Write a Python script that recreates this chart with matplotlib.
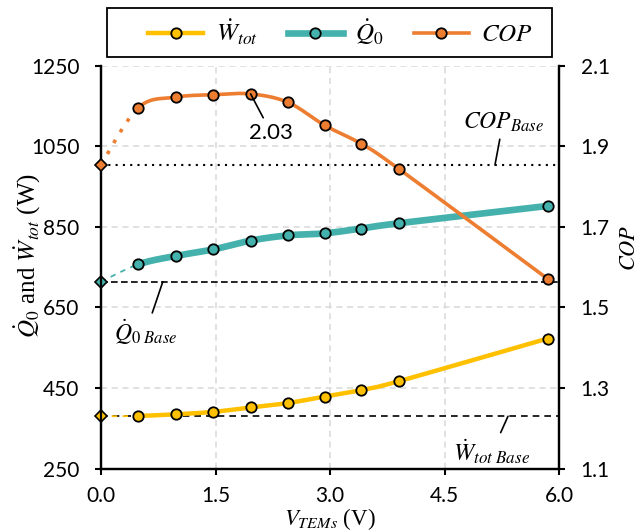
import numpy as np
import matplotlib.pyplot as plt
from matplotlib.lines import Line2D
from matplotlib.patches import Rectangle

plt.rcParams['font.family'] = ['Lato', 'DejaVu Sans']
plt.rcParams['mathtext.fontset'] = 'stix'

# TEM voltage, first entry is the base case without TEMs
v_tem = [0.0, 0.49, 0.98, 1.47, 1.96, 2.45, 2.93, 3.41, 3.90, 5.85]
w_tot = [380, 381, 385, 391, 402, 413, 429, 445, 467, 573]
q_0 = [714, 757, 778, 794, 816, 829, 834, 846, 859, 902]
cop = [1.854, 1.996, 2.022, 2.028, 2.030, 2.009, 1.952, 1.906, 1.844, 1.571]

YELLOW = '#FFC000'
TEAL = '#45B1AC'
ORANGE = '#ED7D31'


def smooth(x, y, n=30):
    # bezier smoothing like the spreadsheet "smoothed line" option
    x = np.asarray(x, float)
    y = np.asarray(y, float)
    pts = np.column_stack([x, y])
    segs = []
    for i in range(len(pts) - 1):
        p0 = pts[max(i - 1, 0)]
        p1 = pts[i]
        p2 = pts[i + 1]
        p3 = pts[min(i + 2, len(pts) - 1)]
        c1 = p1 + (p2 - p0) / 6.0
        c2 = p2 - (p3 - p1) / 6.0
        t = np.linspace(0, 1, n)[:, None]
        b = ((1 - t) ** 3) * p1 + 3 * ((1 - t) ** 2) * t * c1 + 3 * (1 - t) * t ** 2 * c2 + t ** 3 * p2
        segs.append(b)
    return segs


def draw_series(axis, x, y, color, lw, first_style, first_lw):
    segs = smooth(x, y)
    first = segs[0]
    rest = np.vstack(segs[1:])
    axis.plot(first[:, 0], first[:, 1], color=color, lw=first_lw, ls=first_style, zorder=3)
    axis.plot(rest[:, 0], rest[:, 1], color=color, lw=lw, zorder=3, solid_capstyle='butt')
    axis.plot(x[1:], y[1:], 'o', ms=7.5, mfc=color, mec='black', mew=1.3, zorder=5)
    axis.plot(x[0], y[0], 'D', ms=6.5, mfc=color, mec='black', mew=1.2, zorder=6, clip_on=False)


fig = plt.figure(figsize=(6.39, 5.32), dpi=100)
ax = fig.add_axes([0.158, 0.119, 0.717, 0.7575])
ax2 = ax.twinx()

ax.set_xlim(0, 6)
ax.set_ylim(250, 1250)
ax2.set_ylim(1.1, 2.1)
ax.set_xticks(np.arange(0, 6.01, 1.5))
ax.set_xticklabels(['0.0', '1.5', '3.0', '4.5', '6.0'])
ax.set_yticks(np.arange(250, 1251, 200))
ax2.set_yticks(np.arange(1.1, 2.11, 0.2))
ax2.set_yticklabels(['1.1', '1.3', '1.5', '1.7', '1.9', '2.1'])

ax.grid(True, color='#d9d9d9', ls=(0, (4, 3)), lw=1.1)
ax.set_axisbelow(True)

for a in (ax, ax2):
    a.spines['top'].set_visible(False)
    for s in ('left', 'right', 'bottom'):
        a.spines[s].set_linewidth(1.6)
    a.tick_params(direction='out', length=4.5, width=1.5, labelsize=15, pad=11)
ax.tick_params(axis='x', pad=8)

# base case reference lines
ax.axhline(w_tot[0], color='black', ls=(0, (4, 3)), lw=1.2, zorder=2)
ax.axhline(q_0[0], color='black', ls=(0, (4, 2)), lw=1.2, zorder=2)
ax2.axhline(cop[0], color='black', ls=(0, (1, 2.5)), lw=1.5, zorder=2)

draw_series(ax, v_tem, w_tot, YELLOW, 3.2, (0, (3, 3)), 1.3)
draw_series(ax, v_tem, q_0, TEAL, 4.8, (0, (3, 3)), 1.3)
draw_series(ax2, v_tem, cop, ORANGE, 2.6, (0, (1, 2.5)), 2.6)

ax.set_xlabel(r'$V_{TEMs}$ (V)', fontsize=16.5, family='Liberation Serif', va='bottom')
ax.xaxis.set_label_coords(0.5, -0.156)
ax.set_ylabel(r'$\dot{Q}_0$ and $\dot{W}_{tot}$ (W)', fontsize=18, family='Liberation Serif',
              va='center')
ax.yaxis.set_label_coords(-0.16, 0.53)
ax2.set_ylabel(r'$COP$', fontsize=16, va='center')
ax2.yaxis.set_label_coords(1.152, 0.548)

line_kw = dict(arrowstyle='-', color='black', lw=1.2, shrinkA=2, shrinkB=0)
ax2.annotate('2.03', xy=(1.96, 2.03), xytext=(2.23, 1.933), fontsize=16,
             ha='center', va='center', arrowprops=line_kw, zorder=7)
ax2.annotate(r'$COP_{Base}$', xy=(5.16, cop[0]), xytext=(5.265, 1.96), fontsize=17,
             ha='center', va='center', arrowprops=line_kw)
ax.annotate(r'$\dot{Q}_{0\ Base}$', xy=(0.81, q_0[0]), xytext=(0.583, 587), fontsize=17,
            ha='center', va='center', arrowprops=line_kw)
ax.annotate(r'$\dot{W}_{tot\ Base}$', xy=(5.33, w_tot[0]), xytext=(5.12, 291), fontsize=17.5,
            ha='center', va='center', arrowprops=line_kw)

handles = [
    Line2D([], [], color=YELLOW, lw=3.2, marker='o', ms=7.5, mfc=YELLOW, mec='black', mew=1.3),
    Line2D([], [], color=TEAL, lw=4.8, marker='o', ms=7.5, mfc=TEAL, mec='black', mew=1.3),
    Line2D([], [], color=ORANGE, lw=2.6, marker='o', ms=7.5, mfc=ORANGE, mec='black', mew=1.3),
]
labels = [r'$\dot{W}_{tot}$', r'$\dot{Q}_0$', r'$COP$']
fig.legend(handles, labels, loc='center', bbox_to_anchor=(0.533, 0.939), ncol=3,
           fontsize=18, frameon=False, handlelength=2.2, handletextpad=0.5,
           columnspacing=1.2, borderpad=0, borderaxespad=0)
# legend frame
fig.add_artist(Rectangle((0.1675, 0.8929), 0.6964, 0.0921, transform=fig.transFigure,
                         fill=False, edgecolor='black', lw=1.3))

fig.savefig('out.png', dpi=100)
